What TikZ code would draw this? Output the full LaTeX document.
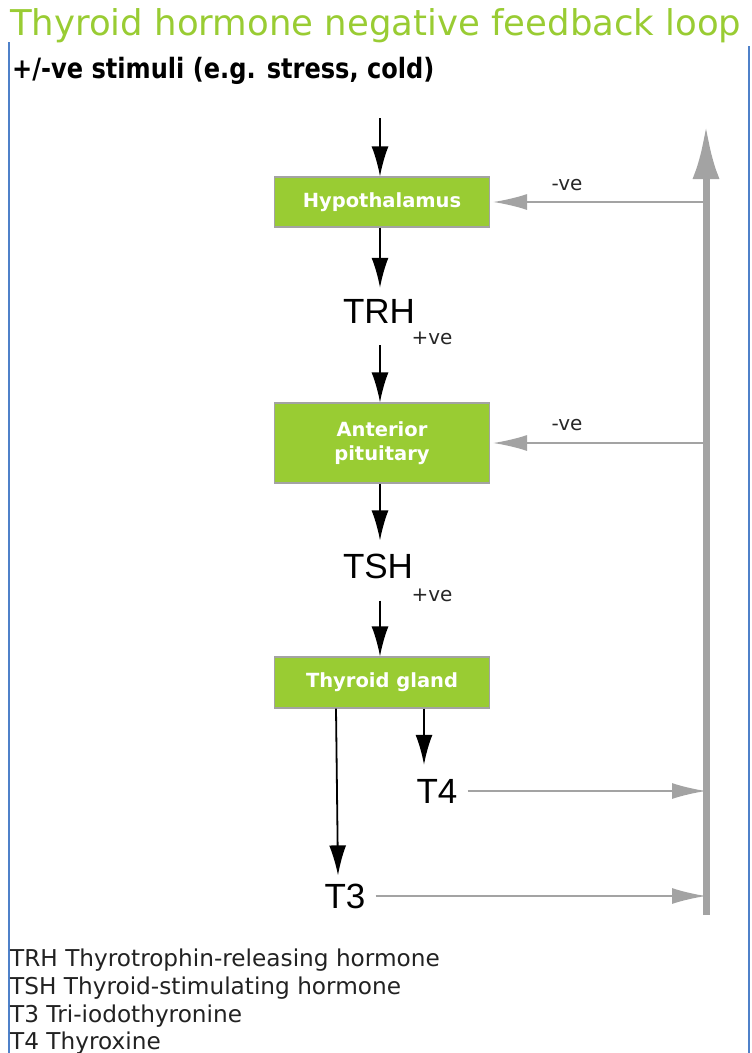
\documentclass[tikz,border=0pt]{standalone}
\usepackage{fontspec}
\setmainfont{DejaVu Sans}
\newfontfamily\arialf{Liberation Sans}
\newfontfamily\condf{DejaVu Sans}[FakeStretch=0.86]
\usetikzlibrary{arrows.meta,calc}
\definecolor{leaf}{HTML}{99CC33}
\definecolor{fbgray}{HTML}{A3A3A3}
\definecolor{frameblue}{HTML}{4F81C9}
\definecolor{legtext}{HTML}{222222}
\tikzset{
  box/.style={draw=fbgray, line width=1.2pt, fill=leaf, text=white,
    font=\fontsize{19.5}{24}\selectfont\bfseries, minimum width=215pt, align=center},
  hormone/.style={font=\arialf\fontsize{35}{40}\selectfont, inner sep=0pt},
  blk/.style={black, line width=1.8pt, -{Latex[length=30pt,width=17pt]}},
  garr/.style={fbgray, line width=1.8pt, -{Latex[length=34pt,width=16pt]}},
  bigarr/.style={fbgray, line width=7pt, -{Latex[length=54pt,width=27pt]}},
  sign/.style={font=\fontsize{20}{23}\selectfont, text=black!85, inner sep=0pt},
  legend/.style={anchor=base west, font=\fontsize{23.2}{26}\selectfont, text=legtext, inner sep=0pt},
}
\begin{document}
\begin{tikzpicture}[x=1pt,y=-1pt]
\useasboundingbox (0,0) rectangle (752,1053);
% frame
\draw[frameblue, line width=2pt] (9,42) -- (9,1053);
\draw[frameblue, line width=2pt] (748.5,46) -- (748.5,1053);
% titles
\node[anchor=base west, inner sep=0pt, text=leaf, font=\fontsize{35.5}{40}\selectfont] (title) at (10,35) {Thyroid hormone negative feedback loop};
\node[anchor=base west, inner sep=0pt, font=\condf\fontsize{28}{32}\selectfont\bfseries] (stim) at (12,78) {+/-ve stimuli (e.g. stress, cold)};
% boxes
\node[box, minimum height=50pt] (hyp) at (382,202) {Hypothalamus};
\node[box, minimum height=80pt] (ant) at (382,443) {Anterior\\pituitary};
\node[box, minimum height=51pt] (thy) at (382,682.5) {Thyroid gland};
% hormones
\node[hormone] (trh) at (379,311) {TRH};
\node[hormone] (tsh) at (378,566) {TSH};
\node[hormone] (t4) at (437,791) {T4};
\node[hormone] (t3) at (345,896) {T3};
% signs
\node[sign] (p1) at (432,338) {+ve};
\node[sign] (p2) at (432,595) {+ve};
\node[sign] (m1) at (567,185) {-ve};
\node[sign] (m2) at (567,425) {-ve};
% main feedback line
\coordinate (mb) at (706,915);
\coordinate (mt) at (706,125);
\draw[bigarr] (mb) -- (mt);
% stimulus arrow
\coordinate (s0) at (380,118);
\draw[blk] (s0) -- (s0 |- hyp.north);
% chain
\draw[blk, shorten >=11pt] (hyp.south -| s0) -- (trh.north -| s0);
\draw[blk, shorten <=22pt] (trh.south -| s0) -- (ant.north -| s0);
\draw[blk, shorten >=13pt] (ant.south -| s0) -- (tsh.north -| s0);
\draw[blk, shorten <=22pt] (tsh.south -| s0) -- (thy.north -| s0);
% thyroid outputs
\draw[blk] ([xshift=42pt]thy.south) -- ([xshift=42pt,yshift=14pt]thy.south |- t4.north);
\draw[blk] ([xshift=-46pt]thy.south) -- ([xshift=-7pt,yshift=8pt]t3.north);
% to main line
\draw[garr, shorten <=10pt] (t4.east) -- (t4.east -| mb);
\draw[garr, shorten <=10pt] (t3.east) -- (t3.east -| mb);
% negative feedback
\draw[garr, shorten >=3pt] (hyp.east -| mb) -- (hyp.east);
\draw[garr, shorten >=3pt] (ant.east -| mb) -- (ant.east);
% legend
\node[legend] (l1) at (10,966) {TRH Thyrotrophin-releasing hormone};
\node[legend] (l2) at (10,994) {TSH Thyroid-stimulating hormone};
\node[legend] (l3) at (10,1022) {T3 Tri-iodothyronine};
\node[legend] (l4) at (10,1049) {T4 Thyroxine};
\end{tikzpicture}
\end{document}
